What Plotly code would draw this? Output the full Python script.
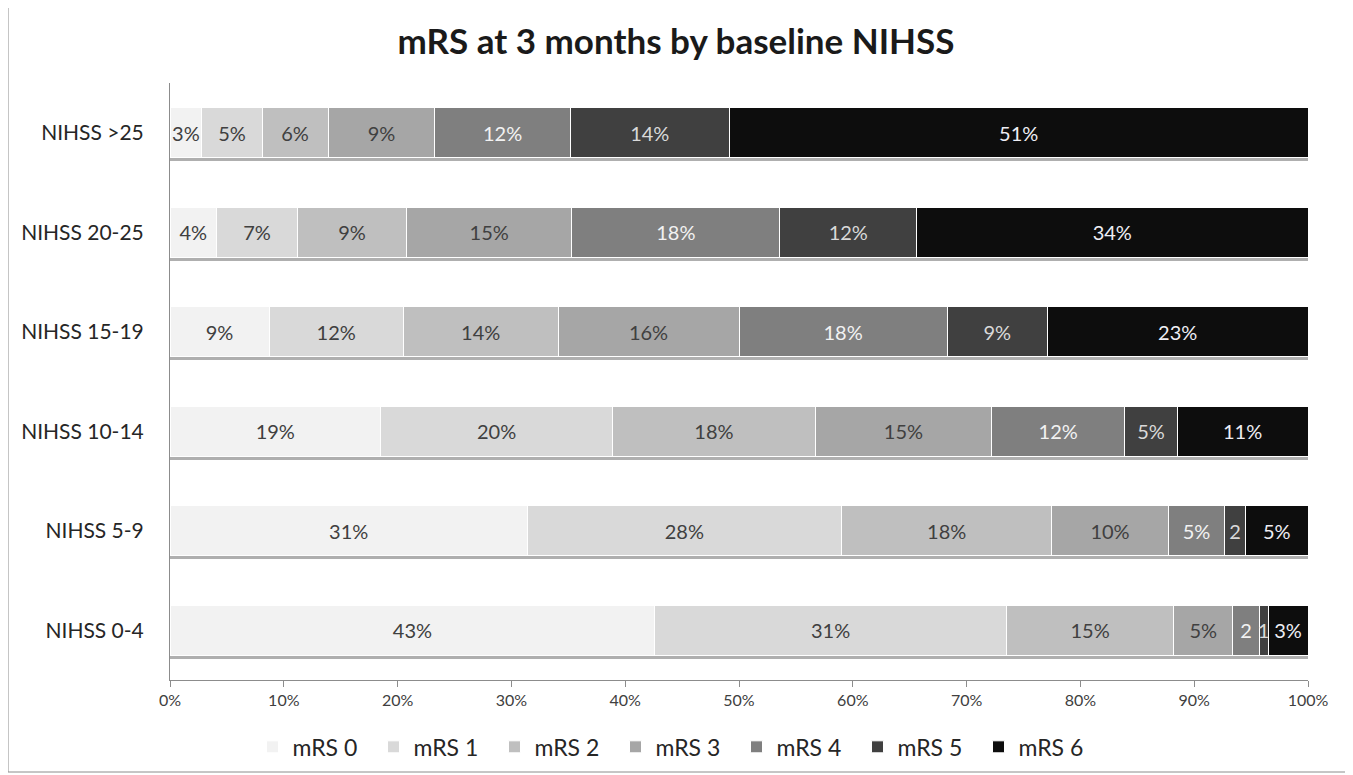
import plotly.graph_objects as go

categories = ["NIHSS 0-4", "NIHSS 5-9", "NIHSS 10-14", "NIHSS 15-19", "NIHSS 20-25", "NIHSS >25"]
series_names = ["mRS 0", "mRS 1", "mRS 2", "mRS 3", "mRS 4", "mRS 5", "mRS 6"]

# values per series, ordered like categories (estimated % of patients)
mrs0 = [42.6, 31.4, 18.5, 8.7, 4.1, 2.8]
mrs1 = [30.9, 27.6, 20.4, 11.8, 7.1, 5.3]
mrs2 = [14.7, 18.5, 17.8, 13.6, 9.6, 5.8]
mrs3 = [5.2, 10.2, 15.5, 15.9, 14.5, 9.4]
mrs4 = [2.3, 5.0, 11.7, 18.3, 18.3, 11.9]
mrs5 = [0.8, 1.8, 4.6, 8.8, 12.0, 14.0]
mrs6 = [3.5, 5.5, 11.5, 22.9, 34.4, 50.9]

# labels as printed on the bars
lab0 = ["43%", "31%", "19%", "9%", "4%", "3%"]
lab1 = ["31%", "28%", "20%", "12%", "7%", "5%"]
lab2 = ["15%", "18%", "18%", "14%", "9%", "6%"]
lab3 = ["5%", "10%", "15%", "16%", "15%", "9%"]
lab4 = ["2", "5%", "12%", "18%", "18%", "12%"]
lab5 = ["1", "2", "5%", "9%", "12%", "14%"]
lab6 = ["3%", "5%", "11%", "23%", "34%", "51%"]

x_tick_vals = [0, 10, 20, 30, 40, 50, 60, 70, 80, 90, 100]
x_tick_text = ["0%", "10%", "20%", "30%", "40%", "50%", "60%", "70%", "80%", "90%", "100%"]

values = [mrs0, mrs1, mrs2, mrs3, mrs4, mrs5, mrs6]
labels = [lab0, lab1, lab2, lab3, lab4, lab5, lab6]
colors = ["#f2f2f2", "#d9d9d9", "#bfbfbf", "#a6a6a6", "#7f7f7f", "#404040", "#0d0d0d"]
text_colors = ["#404040", "#404040", "#404040", "#404040", "#f2f2f2", "#d9d9d9", "#eeeef4"]

FONT = "Lato, Open Sans, sans-serif"

# row totals (normalised to 100% by barnorm) used for the drop shadow below each bar
row_totals = [sum(v[i] for v in values) for i in range(len(categories))]

fig = go.Figure()
# soft shadow under each bar (Excel shape effect)
fig.add_trace(go.Bar(
    y=categories, x=row_totals, orientation="h", yaxis="y",
    width=0.5, offset=-0.285,
    marker=dict(color="rgba(110,110,110,0.55)", line=dict(width=0)),
    showlegend=False, hoverinfo="skip",
))
for name, vals, labs, col, tcol in zip(series_names, values, labels, colors, text_colors):
    fig.add_trace(go.Bar(
        y=categories, x=vals, name=name, orientation="h", yaxis="y2",
        marker=dict(color=col, line=dict(color="#ffffff", width=1)),
        text=labs, textposition="inside", insidetextanchor="middle",
        textangle=0,
        textfont=dict(family=FONT, size=20, color=tcol),
        constraintext="none",
        hoverinfo="name+x",
    ))

fig.update_layout(
    barmode="stack", barnorm="percent", bargap=0.5,
    width=1345, height=767, autosize=False,
    margin=dict(l=162, r=45, t=75, b=95, autoexpand=False),
    paper_bgcolor="white", plot_bgcolor="white",
    font=dict(family=FONT, color="#404040"),
    title=dict(text="<b>mRS at 3 months by baseline NIHSS</b>",
               x=(676 - 170) / 1138, xref="paper", xanchor="center",
               y=1 - 34 / 767, yref="container", yanchor="middle",
               font=dict(family=FONT, size=35, color="#1a1a1a")),
    uniformtext=dict(minsize=20, mode="show"),
    legend=dict(orientation="h", x=(676 - 170) / 1138, xanchor="center",
                y=-0.112, yanchor="middle", traceorder="normal",
                entrywidth=76, entrywidthmode="pixels",
                font=dict(family=FONT, size=23, color="#262626")),
    showlegend=True,
    xaxis=dict(range=[0, 100], tickmode="array", tickvals=x_tick_vals, ticktext=x_tick_text,
               showgrid=False, zeroline=False,
               showline=True, linecolor="#8c8c8c", linewidth=1,
               ticks="outside", ticklen=6, tickcolor="#8c8c8c",
               tickfont=dict(family=FONT, size=16, color="#404040"),
               fixedrange=True),
    yaxis=dict(range=[-0.5, 5.5], showgrid=False, zeroline=False,
               showline=True, linecolor="#8c8c8c", linewidth=1,
               ticks="outside", ticklen=21, tickcolor="rgba(0,0,0,0)",
               tickfont=dict(family=FONT, size=21, color="#262626"),
               fixedrange=True),
    yaxis2=dict(range=[-0.5, 5.5], overlaying="y", side="left",
                showgrid=False, zeroline=False, showline=False,
                showticklabels=False, ticks="", fixedrange=True),
)

# chart-area border
fig.add_shape(type="rect", xref="paper", yref="paper",
              x0=(8 - 170) / 1138, x1=(1346 - 170) / 1138,
              y0=(680 - 772) / 597, y1=(680 - 6) / 597,
              line=dict(color="#8c8c8c", width=1), layer="below")

fig.write_html("out.html")
